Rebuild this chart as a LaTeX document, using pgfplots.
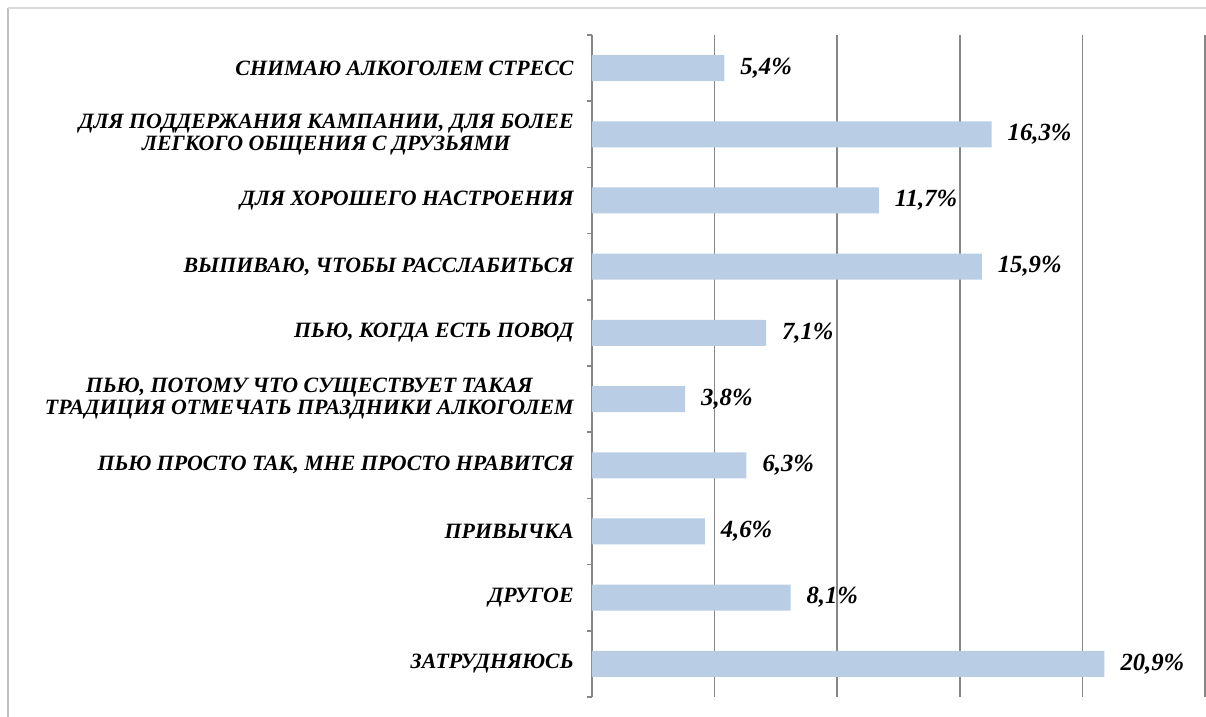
\documentclass[border=0pt]{standalone}
\usepackage{pgfplots}
\pgfplotsset{compat=1.18}
\usepackage{fontspec}
\setmainfont{Liberation Serif}
\definecolor{barblue}{HTML}{B9CDE5}
\definecolor{gridgray}{HTML}{868686}
\definecolor{framegray}{HTML}{BFBFBF}
\begin{document}
\begin{tikzpicture}
\useasboundingbox (-444pt,-15pt) rectangle (460.5pt,522.75pt);
\draw[framegray, line width=1.2pt] (-438pt,-15pt) -- (-438pt,516.75pt);
\draw[framegray!60, line width=1pt] (-438pt,516.75pt) -- (460.5pt,516.75pt);
\begin{axis}[
  at={(0pt,0pt)}, anchor=south west,
  scale only axis,
  width=459.75pt, height=496.5pt,
  xbar, bar width=19.5pt,
  xmin=0, xmax=25,
  ymin=-0.5, ymax=9.5,
  xtick={0,5,10,15,20,25},
  xticklabels={},
  xmajorgrids,
  major grid style={gridgray, line width=1.2pt},
  x axis line style={draw=none},
  axis y line*=left,
  axis x line*=bottom,
  y axis line style={gridgray, line width=1.2pt},
  xtick style={draw=none},
  ytick={0,...,9},
  major y tick style={draw=none},
  minor ytick={-0.5,0.5,...,9.5},
  minor y tick style={gridgray, line width=1.1pt},
  minor tick length=4pt,
  tick align=outside,
  yticklabel style={align=center, font=\fontsize{16.4}{16.5}\selectfont\bfseries\itshape, text=black, xshift=-6pt},
  yticklabels={
    {ЗАТРУДНЯЮСЬ},
    {ДРУГОЕ},
    {ПРИВЫЧКА},
    {ПЬЮ ПРОСТО ТАК, МНЕ ПРОСТО НРАВИТСЯ},
    {ПЬЮ, ПОТОМУ ЧТО СУЩЕСТВУЕТ ТАКАЯ\\ТРАДИЦИЯ ОТМЕЧАТЬ ПРАЗДНИКИ АЛКОГОЛЕМ},
    {ПЬЮ, КОГДА ЕСТЬ ПОВОД},
    {ВЫПИВАЮ, ЧТОБЫ РАССЛАБИТЬСЯ},
    {ДЛЯ ХОРОШЕГО НАСТРОЕНИЯ},
    {ДЛЯ ПОДДЕРЖАНИЯ КАМПАНИИ, ДЛЯ БОЛЕЕ\\ЛЕГКОГО ОБЩЕНИЯ С ДРУЗЬЯМИ},
    {СНИМАЮ АЛКОГОЛЕМ СТРЕСС}
  },
  nodes near coords={\pgfmathprintnumber[fixed,fixed zerofill,precision=1,use comma,assume math mode=true]{\pgfplotspointmeta}\%},
  nodes near coords style={font=\fontsize{18.5}{19}\selectfont\bfseries\itshape, text=black, anchor=west, xshift=8.5pt},
  clip=false,
]
\addplot[fill=barblue, draw=none] coordinates {
  (20.9,0) (8.1,1) (4.6,2) (6.3,3) (3.8,4) (7.1,5) (15.9,6) (11.7,7) (16.3,8) (5.4,9)
};
\end{axis}
\end{tikzpicture}
\end{document}
